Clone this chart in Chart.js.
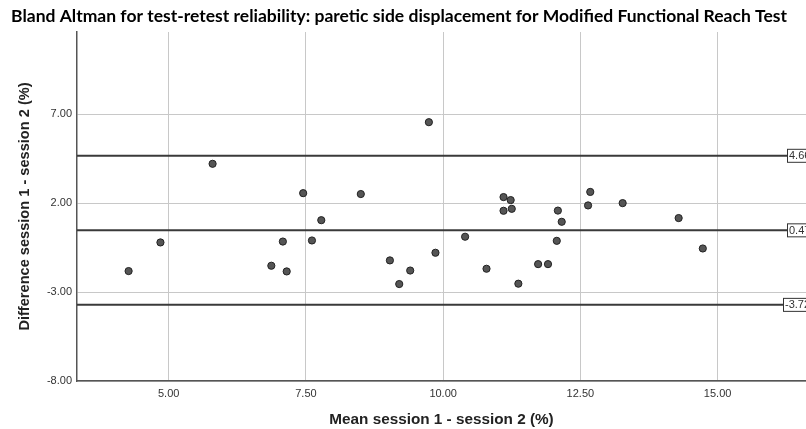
<!DOCTYPE html>
<html>
<head>
<meta charset="utf-8">
<script src="https://cdn.jsdelivr.net/npm/chart.js@4/dist/chart.umd.min.js"></script>
<style>
  html, body { margin: 0; padding: 0; background: #fff; overflow: hidden; }
  canvas { display: block; }
</style>
</head>
<body>
<!-- canvas is a bit wider than the window: the plot runs off the right edge like in the source picture -->
<canvas id="chart" width="811" height="429"></canvas>
<script>
// mean of the two sessions (x) and the difference session 1 - session 2 (y)
const meanVals = [4.27, 4.85, 5.80, 7.08, 6.87, 7.15, 7.45, 7.78, 7.61, 8.50, 9.74, 9.03, 9.20, 9.40, 9.86, 10.40,
  10.79, 11.10, 11.23, 11.10, 11.25, 11.37, 11.73, 11.91, 12.09, 12.16, 12.07, 12.68, 12.64, 13.27, 14.29, 14.73];
const diffVals = [-1.82, -0.21, 4.21, -0.16, -1.52, -1.84, 2.56, 1.04, -0.10, 2.51, 6.55, -1.22, -2.55, -1.79, -0.79, 0.11,
  -1.69, 2.34, 2.17, 1.57, 1.68, -2.53, -1.43, -1.43, 1.58, 0.95, -0.12, 2.63, 1.87, 2.00, 1.16, -0.55];

// upper limit, mean difference, lower limit
const refLines = [4.66, 0.47, -3.72];
const refLabels = ['4.66', '0.47', '-3.72'];

const xTicks = [5, 7.5, 10, 12.5, 15];
const yTicks = [-8, -3, 2, 7];
const xMin = 3.33, xMax = 16.61;
const yMin = -8, yMax = 11.62;

const chartTitle = 'Bland Altman for test-retest reliability: paretic side displacement for Modified Functional Reach Test';

const points = meanVals.map((m, i) => ({ x: m, y: diffVals[i] }));

const refSets = refLines.map(v => ({
  type: 'line',
  data: [{ x: xMin, y: v }, { x: xMax, y: v }],
  borderColor: '#3a3a3a',
  borderWidth: 2,
  pointRadius: 0,
  order: 2
}));

// white page + title over the plot
const bgPlugin = {
  id: 'bg',
  beforeDraw(chart) {
    const ctx = chart.ctx;
    ctx.save();
    ctx.fillStyle = '#fff';
    ctx.fillRect(0, 0, chart.width, chart.height);
    ctx.fillStyle = '#000';
    ctx.font = 'bold 17.5px Lato, "Open Sans", sans-serif';
    ctx.textAlign = 'center';
    ctx.textBaseline = 'middle';
    ctx.fillText(chartTitle, 399, 16);
    ctx.restore();
  }
};

// boxed labels at the right end of the reference lines
const refLabelPlugin = {
  id: 'refLabels',
  afterDatasetsDraw(chart) {
    const ctx = chart.ctx;
    const y = chart.scales.y;
    const right = chart.chartArea.right;
    ctx.save();
    ctx.font = '11px "Liberation Sans", Arial, sans-serif';
    ctx.textBaseline = 'middle';
    refLines.forEach((v, i) => {
      const py = y.getPixelForValue(v);
      const txt = refLabels[i];
      const w = ctx.measureText(txt).width + 4;
      const bx = right - 19 - (txt.length > 4 ? 4 : 0);
      ctx.fillStyle = '#fff';
      ctx.fillRect(bx, py - 6.5, w, 13);
      ctx.strokeStyle = '#333';
      ctx.lineWidth = 1;
      ctx.strokeRect(bx + 0.5, py - 6.5, w, 13);
      ctx.fillStyle = '#333';
      ctx.fillText(txt, bx + 2, py + 0.5);
    });
    ctx.restore();
  }
};

new Chart(document.getElementById('chart'), {
  type: 'scatter',
  data: {
    datasets: [
      {
        data: points,
        backgroundColor: '#555555',
        borderColor: '#222222',
        borderWidth: 1,
        pointRadius: 3.6,
        order: 1
      },
      ...refSets
    ]
  },
  options: {
    responsive: false,
    animation: false,
    layout: { padding: { left: 0, top: 32, bottom: 0, right: 0 } },
    plugins: {
      legend: { display: false },
      tooltip: { enabled: false },
      title: { display: false }
    },
    scales: {
      x: {
        type: 'linear',
        min: xMin,
        max: xMax,
        afterBuildTicks: s => { s.ticks = xTicks.map(v => ({ value: v })); },
        afterFit: s => { s.height = 48; s.paddingLeft = 0; s.paddingRight = 0; },
        grid: { color: '#c8c8c8', lineWidth: 1, drawTicks: false },
        border: { color: '#555', width: 1.5 },
        ticks: {
          color: '#333',
          font: { family: '"Liberation Sans", Arial, sans-serif', size: 11 },
          padding: 6,
          maxRotation: 0,
          callback: v => v.toFixed(2)
        },
        title: {
          display: true,
          text: 'Mean session 1 - session 2 (%)',
          color: '#222',
          font: { family: '"Liberation Sans", Arial, sans-serif', size: 15.3, weight: 'bold' },
          padding: { top: 8, bottom: 0 }
        }
      },
      y: {
        type: 'linear',
        min: yMin,
        max: yMax,
        afterBuildTicks: s => { s.ticks = yTicks.map(v => ({ value: v })); },
        afterFit: s => { s.width = 77; },
        grid: { color: '#c8c8c8', lineWidth: 1, drawTicks: false },
        border: { color: '#555', width: 1.5 },
        ticks: {
          color: '#333',
          font: { family: '"Liberation Sans", Arial, sans-serif', size: 11 },
          padding: 5,
          callback: v => v.toFixed(2)
        },
        title: {
          display: true,
          text: 'Difference session 1 - session 2 (%)',
          color: '#222',
          font: { family: '"Liberation Sans", Arial, sans-serif', size: 14.6, weight: 'bold' },
          padding: { top: 16, bottom: 0 }
        }
      }
    }
  },
  plugins: [bgPlugin, refLabelPlugin]
});
</script>
</body>
</html>
